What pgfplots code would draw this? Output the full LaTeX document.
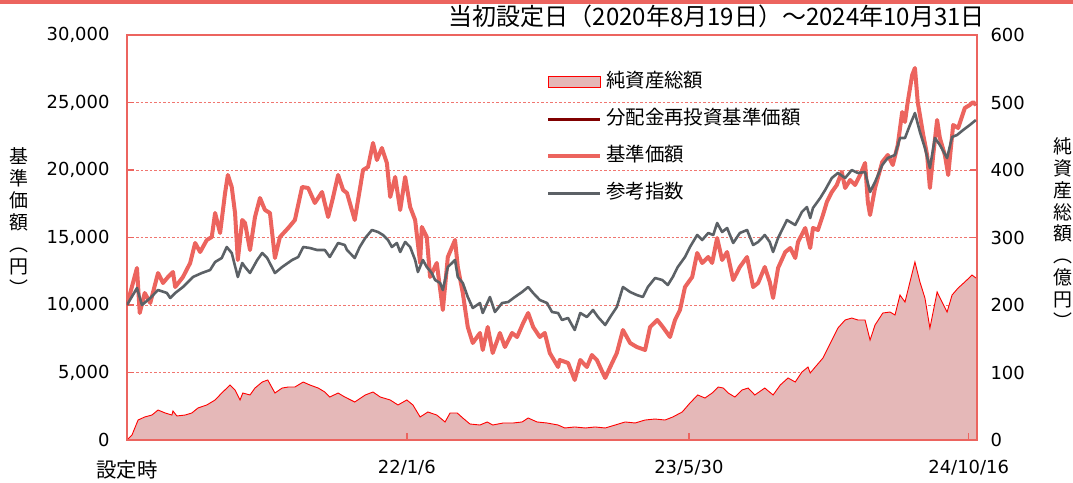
\documentclass[border=0pt]{standalone}
\usepackage{pgfplots}
\pgfplotsset{compat=1.18}
\usepackage{pgfplotstable}
\usepackage{fontspec}
\setmainfont{Noto Sans CJK JP}
\newfontfamily\numfont{DejaVu Sans}
\definecolor{framered}{RGB}{236,100,95}
\definecolor{navred}{RGB}{236,100,94}
\definecolor{reinvred}{RGB}{128,0,0}
\definecolor{idxgray}{RGB}{92,97,102}
\definecolor{areafill}{RGB}{229,184,184}
\definecolor{arealine}{RGB}{255,0,0}
\definecolor{gridred}{RGB}{240,118,112}

\pgfplotstableread{
d v
0 0
9 7.4
20 29.6
32 34.1
45 37.0
56 44.4
69 40.0
81 37.0
83 43.0
90 35.6
105 37.0
117 40.0
128 47.4
144 51.9
159 59.3
171 69.6
186 81.5
195 74.1
204 59.3
209 69.6
222 66.7
231 77.0
244 85.9
254 88.9
267 69.6
280 77.0
291 78.5
303 78.5
318 85.9
330 81.5
345 77.0
357 71.1
366 63.7
381 69.6
393 63.7
411 56.3
430 66.7
444 71.1
457 63.7
475 59.3
489 51.9
505 59.3
516 51.9
529 34.1
543 41.5
559 37.0
574 26.7
583 40.0
596 40.0
606 32.6
619 23.7
637 22.2
650 26.7
660 22.2
679 25.2
697 25.2
713 26.7
724 32.6
740 26.7
758 25.2
778 22.2
790 17.8
808 19.3
827 17.8
845 19.3
863 17.8
881 22.2
899 26.7
917 25.2
935 29.6
953 31.1
971 29.6
985 34.1
1002 41.5
1016 54.8
1030 66.7
1043 62.2
1056 69.6
1067 78.5
1076 77.0
1085 69.6
1097 63.7
1110 74.1
1121 77.0
1133 66.7
1151 77.0
1166 66.7
1179 81.5
1193 91.9
1206 85.9
1218 100.7
1229 108.1
1233 99.3
1242 108.1
1256 121.5
1265 136.3
1274 151.1
1283 165.9
1296 177.8
1308 180.7
1319 177.8
1332 177.8
1341 148.1
1350 170.4
1364 188.1
1377 189.6
1386 185.2
1395 214.8
1404 204.4
1413 234.1
1422 263.7
1431 234.1
1440 210.4
1449 165.9
1462 219.3
1471 204.4
1480 189.6
1489 214.8
1500 225.2
1512 234.1
1525 244.4
1532 240.0
}\netdata

\pgfplotstableread{
d v
0 10000
18 12741
23 9407
32 10889
42 10148
56 12370
65 11630
74 12074
83 12444
87 11333
101 12074
114 13111
123 14593
132 13926
144 14815
153 15037
159 16815
168 15333
177 18296
182 19630
189 18741
195 16815
200 13333
208 16296
213 16074
222 14074
231 16519
240 17926
249 17037
258 16815
267 13481
276 15037
291 15704
303 16296
316 18741
327 18667
339 17556
352 18370
363 16519
372 18000
381 19630
390 18519
397 18296
411 16296
417 17778
426 20000
435 20222
444 22000
451 20741
460 21630
469 20519
475 18000
484 19481
493 17037
502 19481
511 17259
520 16296
529 13111
532 15778
541 15037
547 12074
559 13111
570 9630
579 13556
592 14815
597 12815
606 10889
615 8370
624 7185
637 7926
642 6667
651 8370
660 6444
673 7926
682 6889
695 7926
704 7630
715 8667
724 9407
733 8370
745 7630
754 7926
763 6444
778 5407
781 5926
796 5704
808 4444
818 5926
830 5407
839 6296
848 5926
863 4593
872 5407
884 6444
895 8148
908 7185
920 6889
935 6667
944 8370
957 8889
967 8370
980 7630
989 8889
998 9630
1007 11333
1020 12074
1029 13852
1038 13111
1049 13556
1056 13111
1065 14963
1074 13333
1083 13926
1094 11852
1106 12815
1119 13556
1130 11333
1139 11630
1151 12815
1160 11704
1166 10519
1175 12741
1188 13926
1197 14222
1206 13481
1211 14667
1224 15704
1233 14222
1238 15704
1247 15556
1256 16667
1263 17630
1272 18370
1281 18889
1290 19852
1296 18667
1305 19259
1314 18889
1323 19630
1332 20519
1337 17630
1341 16667
1350 18667
1363 20593
1373 21111
1382 20370
1391 21852
1399 24296
1404 23556
1409 25037
1417 27037
1422 27556
1427 25037
1437 22593
1444 21111
1449 18667
1455 21111
1462 23704
1467 22370
1476 21111
1482 19630
1491 23333
1500 23111
1512 24593
1521 24815
1527 25037
1532 24815
}\navdata

\pgfplotstableread{
d v
0 10000
18 11259
27 10000
42 10519
56 11111
72 10889
78 10519
87 10889
101 11333
119 12074
135 12370
150 12593
159 13185
171 13481
180 14296
189 13852
200 12074
208 13111
213 12815
222 12370
235 13333
244 13852
253 13481
267 12370
280 12815
298 13333
309 13556
318 14296
330 14222
343 14074
357 14074
366 13556
381 14593
393 14444
397 14074
411 13481
420 14296
430 14963
442 15556
453 15407
462 15185
471 14815
478 14296
487 14593
493 13926
502 14667
511 14296
520 13333
525 12444
534 13333
541 12815
550 12370
556 11852
565 11630
570 11111
579 12815
592 13333
597 12074
606 11630
615 10593
624 9778
637 10148
642 9407
655 10593
664 9481
677 10148
688 10222
700 10593
713 10963
724 11333
733 10889
745 10370
758 10148
767 9481
778 9407
785 8889
796 9037
808 8148
818 9407
830 9111
841 9630
850 9111
863 8519
872 9111
884 9852
895 11333
908 10963
920 10741
931 10593
940 11333
953 12000
966 11852
976 11481
985 12074
994 12815
1007 13556
1016 14296
1029 15185
1038 14815
1049 15333
1058 15185
1065 16074
1074 15407
1083 15704
1094 14593
1106 15333
1119 15556
1130 14444
1139 14667
1151 15185
1160 14667
1166 13926
1175 14963
1191 16296
1206 15926
1218 16889
1227 17259
1233 16444
1238 17185
1251 17926
1260 18519
1272 19407
1283 19778
1296 19407
1308 20000
1319 19778
1332 19852
1341 18370
1350 19111
1363 20370
1373 20889
1386 21111
1395 22370
1404 22370
1413 23333
1422 24222
1431 22815
1440 21630
1449 20148
1458 22370
1467 21852
1480 20889
1489 22444
1498 22593
1509 22963
1521 23333
1532 23704
}\idxdata

\begin{document}
\begin{tikzpicture}
% right axis: net assets (drawn first, behind)
\begin{axis}[
  at={(0,0)}, anchor=south west,
  width=850bp, height=405bp, scale only axis,
  xmin=0, xmax=1534, ymin=0, ymax=600,
  axis x line=none,
  axis y line*=right,
  axis line style={framered, line width=2bp, -},
  tick align=inside,
  major tick length=7bp,
  tick style={framered, line width=1.5bp},
  ytick={0,100,...,600},
  ymajorgrids,
  major grid style={gridred, line width=0.9bp, dash pattern=on 2.5bp off 2bp},
  tick label style={font=\numfont\fontsize{18}{22}\selectfont, black},
  yticklabel style={/pgf/number format/assume math mode=true, xshift=10bp},
  ylabel={純\\資\\産\\総\\額\\︵\\億\\円\\︶},
  ylabel style={rotate=-90, align=center, font=\fontsize{19}{22}\selectfont,
    at={(axis description cs:1.101,0.511)}, anchor=center},
]
\addplot[fill=areafill, draw=none] table[x=d, y=v] {\netdata} \closedcycle;
\addplot[arealine, line width=0.9bp] table[x=d, y=v] {\netdata};
\end{axis}

% left axis: prices
\begin{axis}[
  at={(0,0)}, anchor=south west,
  width=850bp, height=405bp, scale only axis,
  xmin=0, xmax=1534, ymin=0, ymax=30000,
  axis line style={framered, line width=2bp},
  tick pos=left, tick align=inside,
  major tick length=7bp,
  tick style={framered, line width=1.5bp},
  xtick={0,505,1014,1519},
  xticklabels={{\rmfamily\fontsize{20.5}{24}\selectfont 設定時},22/1/6,23/5/30,24/10/16},
  xticklabel style={yshift=-17bp},
  ytick={0,5000,...,30000},
  scaled y ticks=false,
  yticklabel style={/pgf/number format/.cd, 1000 sep={,}, assume math mode=true, /tikz/xshift=-14bp},
  tick label style={font=\numfont\fontsize{18}{22}\selectfont, black},
  ylabel={基\\準\\価\\額\\︵\\円\\︶},
  ylabel style={rotate=-90, align=center, font=\fontsize{19}{22}\selectfont,
    at={(axis description cs:-0.127,0.54)}, anchor=center},
  title={当初設定日（2020年8月19日）～2024年10月31日},
  title style={font=\fontsize{24.1}{27}\selectfont, at={(axis description cs:1.0094,1.032)}, anchor=east, inner sep=0pt},
  legend image code/.code={\draw[#1] (0bp,0bp) -- (52bp,0bp); \path (56bp,0bp);},
  legend style={at={(0.493,0.906)}, anchor=north west, draw=none, fill=none, inner sep=0pt,
    font=\fontsize{19.5}{22}\selectfont, row sep=19bp,
    nodes={inner sep=0pt, text height=14bp, text depth=4bp}},
  legend cell align=left,
]
\addlegendimage{legend image code/.code={\draw[fill=areafill, draw=arealine, line width=0.9bp] (0bp,-5.5bp) rectangle (52bp,5.5bp); \path (56bp,0bp);}}
\addlegendentry{純資産総額}
\addplot[reinvred, line width=2.5bp, line join=round] table[x=d, y=v] {\navdata};
\addlegendentry{分配金再投資基準価額}
\addplot[navred, line width=4bp, line join=round] table[x=d, y=v] {\navdata};
\addlegendentry{基準価額}
\addplot[idxgray, line width=2.6bp, line join=round] table[x=d, y=v] {\idxdata};
\addlegendentry{参考指数}
\end{axis}
\draw[framered, line width=4bp] (-127bp,438bp) -- (946bp,438bp);
\pgfresetboundingbox
\useasboundingbox (-127bp,-43bp) rectangle (946bp,440bp);
\end{tikzpicture}
\end{document}
